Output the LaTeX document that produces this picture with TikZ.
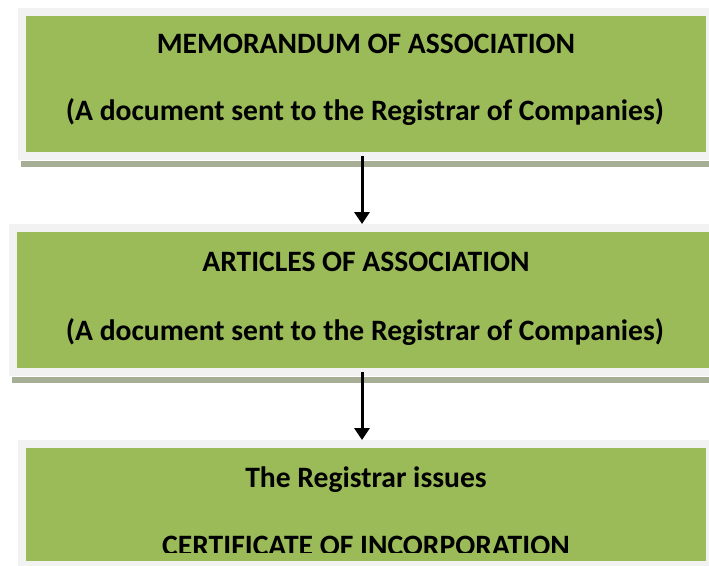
\documentclass[tikz,border=0pt]{standalone}
\usepackage{fontspec}
\setmainfont{Carlito}
\usetikzlibrary{arrows.meta}
\definecolor{boxgreen}{HTML}{9BBB59}
\definecolor{framegray}{HTML}{F2F2F2}
\definecolor{shadowgray}{HTML}{A6AE95}
\begin{document}
\begin{tikzpicture}[x=1pt,y=-1pt,
  framebox/.style={rectangle, fill=framegray, draw=none, inner sep=0pt, outer sep=0pt, anchor=north west},
  shadowbar/.style={rectangle, fill=shadowgray, draw=none, inner sep=0pt, outer sep=0pt, anchor=north west},
  greenbox/.style={rectangle, fill=boxgreen, draw=none, inner sep=0pt, outer sep=0pt, anchor=north west},
  label/.style={font=\fontsize{29.6}{34}\selectfont\bfseries, text=black, inner sep=0pt, anchor=base},
  flowarrow/.style={line width=3pt, draw=black, -{Triangle[width=15pt,length=12pt]}}]
\useasboundingbox (0,0) rectangle (709,565);
\clip (0,0) rectangle (709,565);
% box 1
\node[framebox, minimum width=702pt, minimum height=152pt] (f1) at (18,8) {};
\node[shadowbar, minimum width=700pt, minimum height=6pt] (s1) at (21,161) {};
\node[greenbox, minimum width=680pt, minimum height=136pt] (g1) at (26,16) {};
\node[label] (t1a) at (366,53) {MEMORANDUM OF ASSOCIATION};
\node[label] (t1b) at (365,120) {(A document sent to the Registrar of Companies)};
% box 2
\node[framebox, minimum width=711pt, minimum height=152pt] (f2) at (9,224) {};
\node[shadowbar, minimum width=708pt, minimum height=6pt] (s2) at (12,377) {};
\node[greenbox, minimum width=703pt, minimum height=136pt] (g2) at (17,232) {};
\node[label] (t2a) at (366,271) {ARTICLES OF ASSOCIATION};
\node[label] (t2b) at (365,340) {(A document sent to the Registrar of Companies)};
% box 3
\node[framebox, minimum width=702pt, minimum height=140pt] (f3) at (18,440) {};
\node[greenbox, minimum width=680pt, minimum height=113pt] (g3) at (26,448) {};
\node[label] (t3a) at (366,487) {The Registrar issues};
\begin{scope}
\clip (26,448) rectangle (706,552);
\node[label] (t3b) at (366,555) {CERTIFICATE OF INCORPORATION};
\end{scope}
% arrows
\coordinate (a1) at (362,156);
\coordinate (a2) at (362,372);
\draw[flowarrow] (a1) -- (a1 |- f2.north);
\draw[flowarrow] (a2) -- (a2 |- f3.north);
\end{tikzpicture}
\end{document}
